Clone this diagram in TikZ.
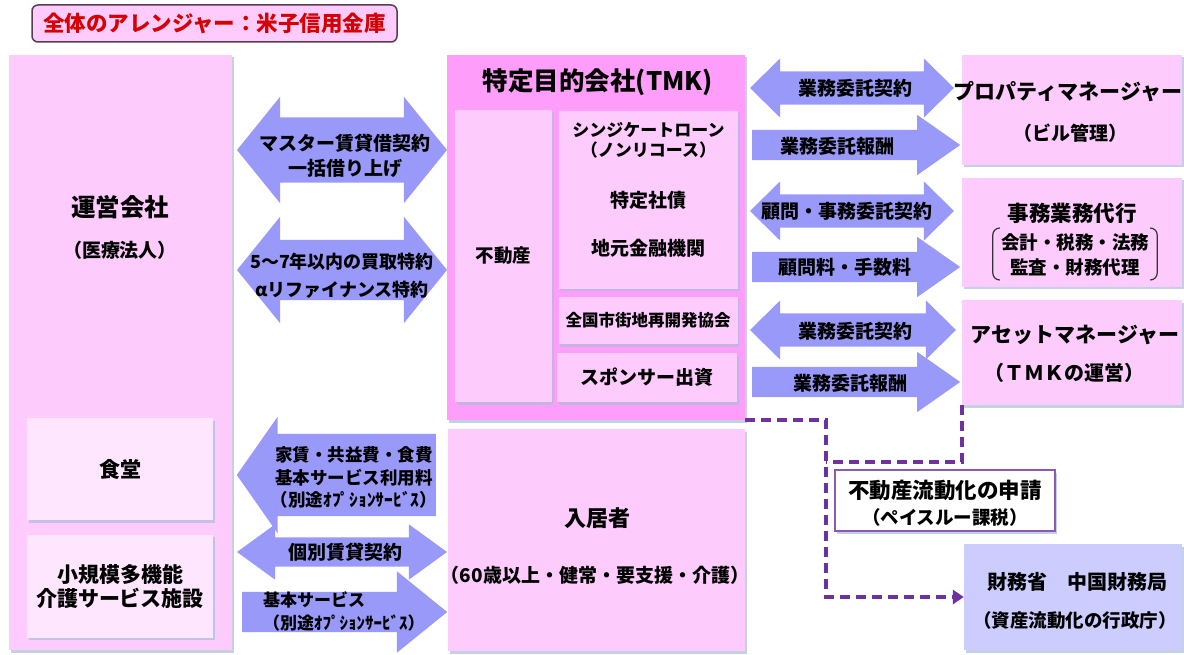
\documentclass[tikz,border=0pt]{standalone}
\usepackage{fontspec}
\setmainfont{Noto Sans CJK JP}
\usetikzlibrary{shapes.arrows,shadows,arrows.meta,positioning}
\definecolor{pinkc}{RGB}{253,204,253}
\definecolor{tmkc}{RGB}{255,158,250}
\definecolor{lightc}{RGB}{255,230,255}
\definecolor{lavc}{RGB}{204,204,255}
\definecolor{arrowc}{RGB}{153,153,250}
\definecolor{dashc}{RGB}{112,48,160}
\definecolor{shadowc}{RGB}{170,190,215}
\definecolor{titlered}{RGB}{215,0,0}
\definecolor{titleborder}{RGB}{90,60,80}
\newcommand{\fsz}[2]{\fontsize{#1}{#2}\selectfont\bfseries}
\tikzstyle{boxshadow}=[drop shadow={shadow xshift=1.5pt,shadow yshift=-2.5pt,fill=shadowc,opacity=0.7}]
\tikzstyle{pinkbox}=[rectangle, fill=pinkc, inner sep=0pt, align=center, boxshadow]
\tikzstyle{tmkbox}=[rectangle, fill=tmkc, inner sep=0pt, boxshadow]
\tikzstyle{innerbox}=[rectangle, fill=pinkc, inner sep=0pt, align=center, boxshadow]
\tikzstyle{lightbox}=[rectangle, fill=lightc, inner sep=0pt, align=center, boxshadow]
\tikzstyle{lavbox}=[rectangle, fill=lavc, inner sep=0pt, boxshadow]
\tikzstyle{notebox}=[rectangle, fill=white, draw=dashc!80, line width=1.2pt, inner sep=0pt, boxshadow]
\tikzstyle{titlebox}=[rectangle, rounded corners=6pt, draw=titleborder, line width=1.5pt, fill=pinkc, text=titlered, font=\fsz{21.5}{26}, minimum width=365, minimum height=37]
\tikzstyle{lbl}=[inner sep=0pt, align=center]
\tikzstyle{dblArrow}=[double arrow, fill=arrowc, inner xsep=0pt]
\tikzstyle{sglArrow}=[single arrow, fill=arrowc, inner xsep=0pt]
\tikzstyle{dashLink}=[draw=dashc, line width=4pt, dash pattern=on 10pt off 6pt]
\tikzstyle{bracket}=[draw=black!80, line width=1.2pt, rounded corners=7pt]

\begin{document}
\begin{tikzpicture}[x=1pt,y=-1pt]
    \useasboundingbox (0,0) rectangle (1184,655);
    % title
    \node[titlebox] (title) at (214.5,23.5) {全体のアレンジャー：米子信用金庫};

    % operator
    \node[pinkbox, minimum width=223, minimum height=595] (unei) at (120.5,352.5) {};
    \node[lbl, font=\fsz{24.5}{30}] (ueiT) at (120,207) {運営会社};
    \node[lbl, font=\fsz{19}{24}] (ueiS) at (120,250) {（医療法人）};
    \node[lightbox, minimum width=186, minimum height=102, font=\fsz{21}{24}] (shokudo) at (120,469) {食堂};
    \node[lightbox, minimum width=186, minimum height=103, font=\fsz{21}{24}] (kaigo) at (120,586) {小規模多機能\\介護サービス施設};

    % TMK
    \node[tmkbox, minimum width=298, minimum height=365] (tmk) at (596,237.5) {};
    \node[lbl, font=\fsz{25.5}{30}] (tmkT) at (598,82) {特定目的会社(TMK)};
    \node[innerbox, minimum width=97, minimum height=292, font=\fsz{18.5}{22}] (fudosan) at (503.5,256) {不動産};
    \node[innerbox, minimum width=179, minimum height=178] (finance) at (648.5,200) {};
    \node[lbl, font=\fsz{17}{20}] (loan) at (648.5,140) {シンジケートローン\\（ノンリコース）};
    \node[lbl, font=\fsz{19}{22}] (bond) at (648.5,200) {特定社債};
    \node[lbl, font=\fsz{19}{22}] (bank) at (648.5,248) {地元金融機関};
    \node[innerbox, minimum width=179, minimum height=47, font=\fsz{16.5}{20}] (kyokai) at (648,320.5) {全国市街地再開発協会};
    \node[innerbox, minimum width=180, minimum height=49, font=\fsz{19}{22}] (sponsor) at (647,377.5) {スポンサー出資};

    % tenants
    \node[pinkbox, minimum width=297, minimum height=222] (nyukyo) at (596.5,540) {};
    \node[lbl, font=\fsz{22}{26}] (nyukyoT) at (597,518) {入居者};
    \node[lbl, font=\fsz{19}{22}] (nyukyoS) at (595,575) {（60歳以上・健常・要支援・介護）};

    % right side
    \node[pinkbox, minimum width=220, minimum height=110] (pm) at (1072,110) {};
    \node[lbl, font=\fsz{21}{24}] (pmT) at (1068,92) {プロパティマネージャー};
    \node[lbl, font=\fsz{19}{22}] (pmS) at (1070,133) {（ビル管理）};
    \node[pinkbox, minimum width=220, minimum height=109] (jimu) at (1072,232.5) {};
    \node[lbl, font=\fsz{21.5}{24}] (jimuT) at (1072,213) {事務業務代行};
    \node[lbl, font=\fsz{18.5}{25}] (jimuS) at (1075,254.5) {会計・税務・法務\\監査・財務代理};
    \draw[bracket] ([xshift=-1pt,yshift=5pt]jimuS.north west) -- ([xshift=-8pt,yshift=5pt]jimuS.north west)
        -- ([xshift=-8pt,yshift=-4pt]jimuS.south west) -- ([xshift=-1pt,yshift=-4pt]jimuS.south west);
    \draw[bracket] ([xshift=1pt,yshift=5pt]jimuS.north east) -- ([xshift=8pt,yshift=5pt]jimuS.north east)
        -- ([xshift=8pt,yshift=-4pt]jimuS.south east) -- ([xshift=1pt,yshift=-4pt]jimuS.south east);
    \node[pinkbox, minimum width=220, minimum height=105] (am) at (1072,352.5) {};
    \node[lbl, font=\fsz{21}{24}] (amT) at (1075,335) {アセットマネージャー};
    \node[lbl, font=\fsz{20}{24}] (amS) at (1064,373) {（ＴＭＫの運営）};

    % application and ministry
    \node[notebox, minimum width=220, minimum height=61] (shinsei) at (945,500.5) {};
    \node[lbl, font=\fsz{21.5}{24}] (shinseiT) at (945,490) {不動産流動化の申請};
    \node[lbl, font=\fsz{18.5}{22}] (shinseiS) at (945,517) {（ペイスルー課税）};
    \node[lavbox, minimum width=218, minimum height=106] (zaimu) at (1073,597) {};
    \node[lbl, font=\fsz{20}{24}] (zaimuT) at (1077,582) {財務省　中国財務局};
    \node[lbl, font=\fsz{18.5}{22}] (zaimuS) at (1075,620) {（資産流動化の行政庁）};

    % arrows operator - TMK
    \node[dblArrow, minimum height=210, inner ysep=32.5, double arrow head extend=20.5, double arrow tip angle=102] (lease) at (342,150) {};
    \node[lbl, font=\fsz{19}{25}] (leaseL) at (345,155.5) {マスター賃貸借契約\\一括借り上げ};
    \node[dblArrow, minimum height=210, inner ysep=30, double arrow head extend=23, double arrow tip angle=102] (buyback) at (342,270) {};
    \node[lbl, font=\fsz{18}{28}] (buybackL) at (342,276) {5〜7年以内の買取特約\\αリファイナンス特約};

    % arrows TMK - service companies
    \node[dblArrow, minimum height=204, inner ysep=16.5, double arrow head extend=13, double arrow tip angle=89] (pmDeal) at (852,88) {};
    \node[lbl, font=\fsz{19}{22}] (pmDealL) at (855,88) {業務委託契約};
    \node[sglArrow, anchor=tail, minimum height=208, inner ysep=15, single arrow head extend=15, single arrow tip angle=70] (pmFee) at (752,145) {};
    \node[lbl, font=\fsz{19}{22}] (pmFeeL) at (837,146) {業務委託報酬};
    \node[dblArrow, minimum height=204, inner ysep=16.5, double arrow head extend=13, double arrow tip angle=89] (jimuDeal) at (852,211) {};
    \node[lbl, font=\fsz{19}{22}] (jimuDealL) at (847,211) {顧問・事務委託契約};
    \node[sglArrow, anchor=tail, minimum height=208, inner ysep=15, single arrow head extend=15, single arrow tip angle=70] (jimuFee) at (752,267) {};
    \node[lbl, font=\fsz{19}{22}] (jimuFeeL) at (845,267) {顧問料・手数料};
    \node[dblArrow, minimum height=206, inner ysep=16.5, double arrow head extend=13, double arrow tip angle=89] (amDeal) at (853,330) {};
    \node[lbl, font=\fsz{19}{22}] (amDealL) at (855,331) {業務委託契約};
    \node[sglArrow, anchor=tail, minimum height=208, inner ysep=15, single arrow head extend=15, single arrow tip angle=70] (amFee) at (752,382) {};
    \node[lbl, font=\fsz{19}{22}] (amFeeL) at (850,383) {業務委託報酬};

    % arrows operator - tenants
    \node[sglArrow, shape border rotate=180, anchor=tail, minimum height=199, inner ysep=41, single arrow head extend=17, single arrow tip angle=110] (rent) at (436,475) {};
    \node[lbl, font=\fsz{17.5}{22.5}] (rentL) at (354,477.5) {家賃・共益費・食費\\基本サービス利用料\\（別途ｵﾌﾟｼｮﾝｻｰﾋﾞｽ）};
    \node[dblArrow, minimum height=210, inner ysep=14.5, double arrow head extend=13, double arrow tip angle=72] (tenancy) at (342,552) {};
    \node[lbl, font=\fsz{19}{22}] (tenancyL) at (345,552) {個別賃貸契約};
    \node[sglArrow, anchor=tail, minimum height=205, inner ysep=20, single arrow head extend=20.5, single arrow tip angle=78] (service) at (242,612) {};
    \node[lbl, font=\fsz{17}{23}, align=left, anchor=west] (serviceL) at (263,611.5) {基本サービス\\（別途ｵﾌﾟｼｮﾝｻｰﾋﾞｽ）};

    % application route
    \coordinate (jn) at (826,462);
    \draw[dashLink, -{Triangle[length=11pt,width=14pt]}] (tmk.south east) -| (jn) |- (zaimu.west);
    \draw[dashLink] (am.south west) |- (jn);
\end{tikzpicture}
\end{document}
